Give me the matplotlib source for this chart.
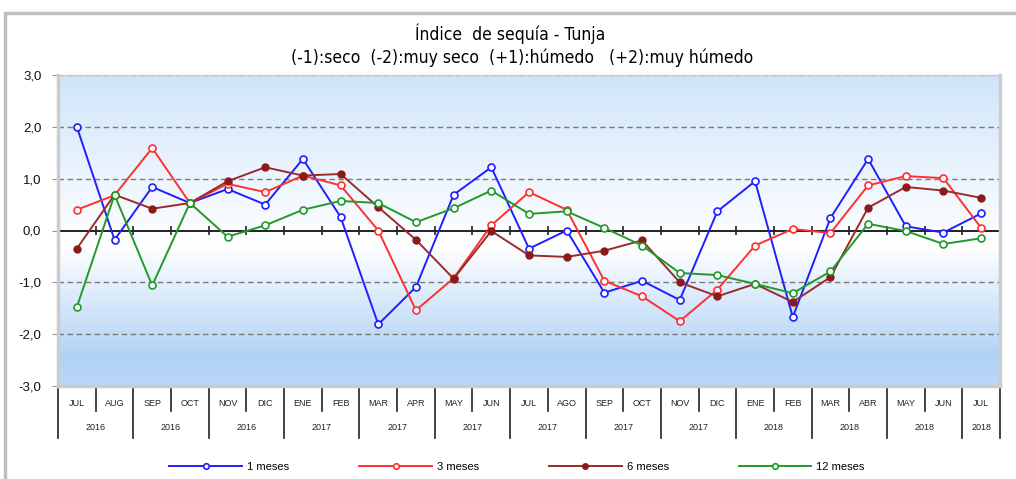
import matplotlib
matplotlib.use("Agg")
import matplotlib.pyplot as plt
import numpy as np
from matplotlib.colors import LinearSegmentedColormap
from matplotlib.patches import Rectangle
from matplotlib import font_manager

# ---------------- data ----------------
months = ["JUL", "AUG", "SEP", "OCT", "NOV", "DIC", "ENE", "FEB", "MAR", "APR",
          "MAY", "JUN", "JUL", "AGO", "SEP", "OCT", "NOV", "DIC", "ENE", "FEB",
          "MAR", "ABR", "MAY", "JUN", "JUL"]
year_groups = ["2016", "2016", "2016", "2017", "2017", "2017", "2017", "2017",
               "2017", "2018", "2018", "2018", "2018"]
group_sizes = [2, 2, 2, 2, 2, 2, 2, 2, 2, 2, 2, 2, 1]

m1 = [2.00, -0.18, 0.84, 0.53, 0.80, 0.50, 1.38, 0.26, -1.81, -1.09,
      0.69, 1.22, -0.35, 0.00, -1.20, -0.97, -1.34, 0.37, 0.95, -1.67,
      0.24, 1.38, 0.08, -0.04, 0.33]
m3 = [0.40, 0.68, 1.59, 0.53, 0.90, 0.74, 1.06, 0.87, 0.00, -1.54,
      -0.92, 0.10, 0.74, 0.40, -0.97, -1.27, -1.75, -1.14, -0.29, 0.03,
      -0.05, 0.87, 1.05, 1.01, 0.05]
m6 = [-0.35, 0.69, 0.42, 0.53, 0.95, 1.22, 1.06, 1.09, 0.45, -0.18,
      -0.93, -0.01, -0.48, -0.51, -0.39, -0.19, -1.00, -1.27, -1.03, -1.38,
      -0.90, 0.44, 0.84, 0.77, 0.63]
m12 = [-1.48, 0.69, -1.06, 0.53, -0.12, 0.10, 0.40, 0.57, 0.53, 0.16,
       0.43, 0.77, 0.32, 0.37, 0.05, -0.29, -0.82, -0.86, -1.03, -1.21,
       -0.79, 0.13, -0.01, -0.26, -0.15]
series_names = ["1 meses", "3 meses", "6 meses", "12 meses"]
yticks = [3, 2, 1, 0, -1, -2, -3]
ytick_labels = ["3,0", "2,0", "1,0", "0,0", "-1,0", "-2,0", "-3,0"]

title_lines = ["Índice  de sequía - Tunja",
               "(-1):seco  (-2):muy seco  (+1):húmedo   (+2):muy húmedo"]

# ---------------- figure ----------------
plt.rcParams['font.family'] = ['Liberation Sans', 'DejaVu Sans']
W, H = 1016, 479
fig = plt.figure(figsize=(W / 100, H / 100), dpi=100)
fig.patch.set_facecolor("white")

left, right, top, bottom = 58, 1000, 75, 386
ax = fig.add_axes([left / W, 1 - bottom / H, (right - left) / W, (bottom - top) / H])

x = np.arange(len(months))
ax.set_xlim(-0.5, len(months) - 0.5)
ax.set_ylim(-3, 3)

# background gradient
cmap = LinearSegmentedColormap.from_list(
    "bg", [(0.0, "#d0e5fa"), (0.55, "#ffffff"), (0.9, "#b2d3f6"), (1.0, "#b9d8f7")])
grad = np.linspace(0, 1, 256).reshape(-1, 1)
ax.imshow(grad, cmap=cmap, aspect="auto",
          extent=[-0.5, len(months) - 0.5, -3, 3], origin="upper", zorder=0)

# grid
for yv in [3, 2, 1, -1, -2]:
    ax.axhline(yv, color="#7a7a7a", lw=1.0, ls=(0, (4, 2.5)), zorder=1)
ax.axhline(0, color="#222222", lw=1.4, zorder=2)
bounds = np.arange(0.5, len(months) - 0.5, 1.0)
ax.vlines(bounds, -0.08, 0.08, color="#222222", lw=1.2, zorder=2)

# series
ax.plot(x, m1, color="#1f1fff", lw=1.4, marker="o", ms=5, mfc="white",
        mec="#1f1fff", mew=1.2, label=series_names[0], zorder=4)
ax.plot(x, m3, color="#ff3030", lw=1.4, marker="o", ms=5, mfc="white",
        mec="#ff3030", mew=1.2, label=series_names[1], zorder=4)
ax.plot(x, m6, color="#9b2a2a", lw=1.4, marker="o", ms=5, mfc="#8b1a1a",
        mec="#8b1a1a", mew=1.0, label=series_names[2], zorder=4)
ax.plot(x, m12, color="#22992a", lw=1.4, marker="o", ms=5, mfc="white",
        mec="#22992a", mew=1.2, label=series_names[3], zorder=4)

# axes styling
ax.set_yticks(yticks)
ax.set_yticklabels(ytick_labels, fontsize=9.5, color="#111111")
ax.tick_params(axis="y", length=4, color="#999999", pad=8)
ax.set_xticks([])
for s in ["left", "right", "bottom", "top"]:
    ax.spines[s].set_color("#cccccc")
    ax.spines[s].set_linewidth(2.5)
ax.spines["top"].set_linewidth(1.0)

# two-level x labels
xt = ax.get_xaxis_transform()
hpx = bottom - top
def ay(py):
    return -(py - bottom) / hpx

for i, m in enumerate(months):
    ax.text(i, ay(404), m, transform=xt, ha="center", va="center",
            fontsize=6.5, color="#222222", clip_on=False)
group_edges = np.concatenate([[0], np.cumsum(group_sizes)]) - 0.5
for k, yl in enumerate(year_groups):
    c = (group_edges[k] + group_edges[k + 1]) / 2
    ax.text(c, ay(428), yl, transform=xt, ha="center", va="center",
            fontsize=6.5, color="#222222", clip_on=False)
all_edges = np.arange(-0.5, len(months), 1.0)
for e in all_edges:
    long_ = np.any(np.isclose(group_edges, e))
    ax.plot([e, e], [0, ay(438 if long_ else 411)], transform=xt,
            color="#222222", lw=1.2, clip_on=False)

# title: use a condensed face when one is installed
names = {f.name for f in font_manager.fontManager.ttflist}
cond = [f for f in font_manager.fontManager.ttflist
        if f.name in ("Liberation Sans Narrow", "DejaVu Sans")
        and str(f.stretch) in ("condensed", "semi-condensed", "500", "75", "62.5")]
if "Liberation Sans Narrow" in names:
    tkw = dict(family=["Liberation Sans Narrow"], fontsize=13)
elif cond:
    tkw = dict(family=["DejaVu Sans"], fontstretch="condensed", fontsize=12.5)
else:
    tkw = dict(family=["Liberation Sans"], fontsize=12)
fig.text(510 / W, 1 - 34 / H, title_lines[0], ha="center", va="center", **tkw)
fig.text(522 / W, 1 - 58 / H, title_lines[1], ha="center", va="center", **tkw)

# legend
handles, labels = ax.get_legend_handles_labels()
leg = fig.legend(handles, labels, loc="center", bbox_to_anchor=(0.509, 1 - 467 / H),
                 ncol=4, frameon=False, fontsize=8, handlelength=6.5,
                 handletextpad=0.45, columnspacing=6.35, markerscale=0.8)

# outer frame
fig.patches.append(Rectangle((5 / W, -0.05), 1.2, 1 - 13 / H + 0.05,
                             transform=fig.transFigure, fill=False,
                             ec="#c0c0c0", lw=2.5))

fig.savefig("out.png", dpi=100)
